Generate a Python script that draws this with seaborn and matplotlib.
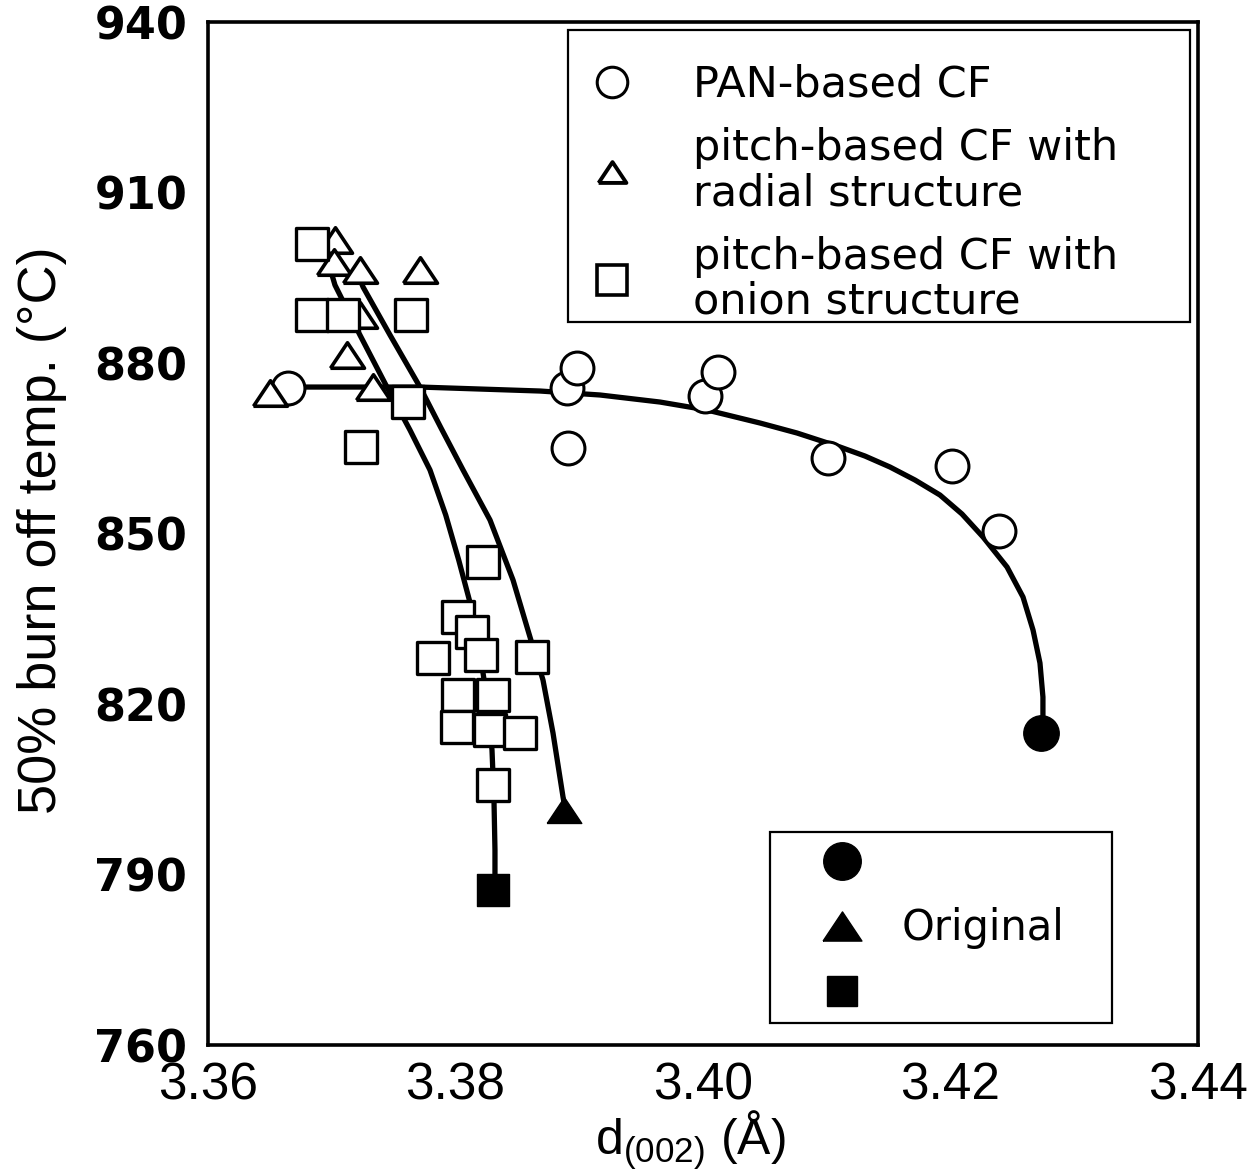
import numpy as np
import pandas as pd
import matplotlib
matplotlib.use("Agg")
import matplotlib.pyplot as plt
import seaborn as sns
from matplotlib.lines import Line2D
from matplotlib.patches import Rectangle

# ---------------- data ----------------
pan_x = [3.3665, 3.3890, 3.3898, 3.3891, 3.4002, 3.4012, 3.4101, 3.4201, 3.4239]
pan_y = [875.6, 875.6, 879.1, 865.0, 874.2, 878.4, 863.3, 861.9, 850.4]
pan_orig_x = [3.4273]
pan_orig_y = [814.9]

radial_x = [3.3703, 3.3702, 3.3723, 3.3771, 3.3723, 3.3712, 3.3733, 3.3650]
radial_y = [901.6, 897.8, 896.4, 896.4, 888.4, 881.4, 875.8, 874.7]
radial_orig_x = [3.3888]
radial_orig_y = [801.3]

onion_x = [3.3684, 3.3684, 3.3709, 3.3764, 3.3762, 3.3724, 3.3822, 3.3802, 3.3813,
           3.3782, 3.3821, 3.3862, 3.3802, 3.3830, 3.3801, 3.3828, 3.3852, 3.3830]
onion_y = [900.9, 888.4, 888.4, 888.4, 873.1, 865.2, 845.0, 835.3, 832.7,
           828.1, 828.6, 828.3, 821.6, 821.6, 815.9, 815.4, 814.9, 805.7]
onion_orig_x = [3.3830]
onion_orig_y = [787.3]

# hand-drawn guide curves
pan_curve_x = [3.36646, 3.37713, 3.38683, 3.39168, 3.39653, 3.40032, 3.40461, 3.40760,
               3.41107, 3.41309, 3.41511, 3.41713, 3.41915, 3.42093, 3.42263, 3.42457,
               3.42586, 3.42667, 3.42723, 3.42747, 3.42747]
pan_curve_y = [875.77, 875.77, 875.07, 874.37, 873.13, 871.73, 869.44, 867.68,
               865.22, 863.63, 861.70, 859.41, 856.77, 853.43, 849.38, 844.10,
               838.82, 833.01, 827.21, 821.23, 814.89]

radial_curve_x = [3.37204, 3.37253, 3.37471, 3.37713, 3.37883, 3.38061, 3.38279,
                  3.38465, 3.38602, 3.38707, 3.38788, 3.38869, 3.38885]
radial_curve_y = [896.01, 893.37, 884.92, 875.77, 868.56, 861.17, 852.37,
                  841.81, 831.78, 824.22, 814.89, 803.63, 801.70]

onion_curve_x = [3.36962, 3.37026, 3.37228, 3.37446, 3.37632, 3.37794, 3.37921, 3.38026,
                 3.38112, 3.38195, 3.38255, 3.38295, 3.38311, 3.38319, 3.38319]
onion_curve_y = [898.47, 893.72, 884.92, 875.77, 868.21, 861.17, 853.25, 845.33,
                 838.29, 829.49, 820.70, 811.90, 803.10, 794.30, 788.14]

x_ticks = [3.36, 3.38, 3.40, 3.42, 3.44]
x_tick_labels = ["3.36", "3.38", "3.40", "3.42", "3.44"]
y_ticks = [760, 790, 820, 850, 880, 910, 940]
y_tick_labels = ["760", "790", "820", "850", "880", "910", "940"]

legend_labels = ["PAN-based CF",
                 "pitch-based CF with\nradial structure",
                 "pitch-based CF with\nonion structure"]
orig_labels = [" ", "Original", " "]
x_label = r"d$_{\mathregular{(002)}}$ (Å)"
y_label = "50% burn off temp. (°C)"

# ---------------- style ----------------
sns.set_theme(style="white")
plt.rcParams["font.family"] = ["DejaVu Sans"]
for k in ["text.color", "axes.labelcolor", "xtick.color", "ytick.color", "axes.edgecolor"]:
    plt.rcParams[k] = "black"

fig = plt.figure(figsize=(12.58, 11.73), dpi=100)
ax = fig.add_axes([0.16534, 0.10912, 0.78696, 0.87212])

tri = [(-1, -0.75), (1, -0.75), (0, 0.75), (-1, -0.75)]

# curves
for cx, cy in [(pan_curve_x, pan_curve_y), (radial_curve_x, radial_curve_y),
               (onion_curve_x, onion_curve_y)]:
    sns.lineplot(x=cx, y=cy, sort=False, estimator=None, color="black",
                 linewidth=3.8, ax=ax, zorder=2)

# open markers
sns.scatterplot(x=pan_x, y=pan_y, marker="o", s=560, color="white",
                edgecolor="black", linewidth=2.2, zorder=3, ax=ax)
sns.scatterplot(x=radial_x, y=radial_y, marker=tri, s=600, color="white",
                edgecolor="black", linewidth=2.6, zorder=3, ax=ax)
sns.scatterplot(x=onion_x, y=onion_y, marker="s", s=530, color="white",
                edgecolor="black", linewidth=2.4, zorder=3, ax=ax)

# filled "original" markers
sns.scatterplot(x=pan_orig_x, y=pan_orig_y, marker="o", s=650, color="black",
                edgecolor="black", linewidth=1, zorder=4, ax=ax)
sns.scatterplot(x=radial_orig_x, y=radial_orig_y, marker=tri, s=620, color="black",
                edgecolor="black", linewidth=1, zorder=4, ax=ax)
sns.scatterplot(x=onion_orig_x, y=onion_orig_y, marker="s", s=560, color="black",
                edgecolor="black", linewidth=1, zorder=4, ax=ax)

ax.set_xlim(3.36, 3.44)
ax.set_ylim(760, 940)
ax.set_xticks(x_ticks)
ax.set_xticklabels(x_tick_labels, fontfamily="Liberation Sans", fontsize=37)
ax.set_yticks(y_ticks)
ax.set_yticklabels(y_tick_labels, fontfamily="DejaVu Sans", fontweight="bold", fontsize=32)
ax.tick_params(axis="both", direction="in", length=13, width=2.2, colors="black")
ax.tick_params(axis="x", pad=12)
ax.tick_params(axis="y", pad=15)
for sp in ax.spines.values():
    sp.set_visible(True)
    sp.set_color("black")
    sp.set_linewidth(2.6)

ax.set_xlabel(x_label, fontfamily="Liberation Sans", fontsize=36, va="top")
ax.xaxis.set_label_coords(0.487, -0.062)
ax.set_ylabel(y_label, fontfamily="Liberation Sans", fontsize=39, va="center")
ax.yaxis.set_label_coords(-0.168, 0.503)

# legend frames (drawn as boxes in axes fraction)
ax.add_patch(Rectangle((0.3636, 0.7067), 0.992 - 0.3636, 0.992 - 0.7067,
                       transform=ax.transAxes, facecolor="white", edgecolor="black",
                       linewidth=1.6, zorder=5))
ax.add_patch(Rectangle((0.5677, 0.0215), 0.9131 - 0.5677, 0.2082 - 0.0215,
                       transform=ax.transAxes, facecolor="white", edgecolor="black",
                       linewidth=1.6, zorder=5))

# legends
h1 = [Line2D([], [], ls="none", marker="o", markersize=22, mfc="white", mec="black", mew=2.2),
      Line2D([], [], ls="none", marker=tri, markersize=20, mfc="white", mec="black", mew=2.8),
      Line2D([], [], ls="none", marker="s", markersize=22, mfc="white", mec="black", mew=2.6)]
leg1 = ax.legend(h1, legend_labels, loc="upper left", bbox_to_anchor=(0.3798, 0.959),
                 borderaxespad=0, borderpad=0, frameon=False,
                 prop={"family": "DejaVu Sans", "size": 31},
                 handlelength=1.3, handletextpad=1.23, labelspacing=0.5)
for t in leg1.get_texts():
    t.set_linespacing(1.08)
leg1.set_zorder(6)
ax.add_artist(leg1)

h2 = [Line2D([], [], ls="none", marker="o", markersize=27, mfc="black", mec="black"),
      Line2D([], [], ls="none", marker=tri, markersize=28, mfc="black", mec="black"),
      Line2D([], [], ls="none", marker="s", markersize=22, mfc="black", mec="black")]
leg2 = ax.legend(h2, orig_labels, loc="upper left", bbox_to_anchor=(0.6131, 0.198),
                 borderaxespad=0, borderpad=0, frameon=False,
                 prop={"family": "DejaVu Sans", "size": 30},
                 handlelength=1.3, handletextpad=0.77, labelspacing=0.55)
leg2.set_zorder(6)

fig.savefig("out.png", dpi=100, facecolor="white")
